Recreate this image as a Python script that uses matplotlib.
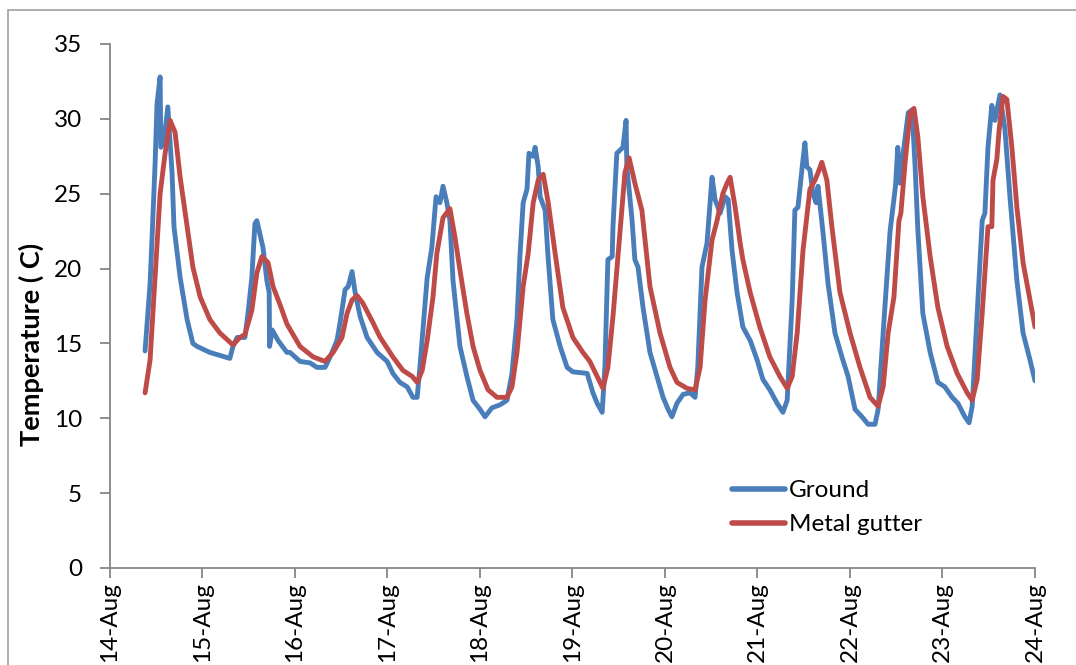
import numpy as np
import matplotlib
matplotlib.use("Agg")
import matplotlib.pyplot as plt
from matplotlib.patches import Rectangle

# ---- data (hours after 14-Aug 00:00, temperature in C) ----
start_date = "2012-08-14"
tick_labels = ["14-Aug", "15-Aug", "16-Aug", "17-Aug", "18-Aug", "19-Aug",
               "20-Aug", "21-Aug", "22-Aug", "23-Aug", "24-Aug"]
y_ticks = [0, 5, 10, 15, 20, 25, 30, 35]

ground_hours = [
    9.1, 10.4, 10.9, 11.7, 12.2, 13.0, 13.2, 14.0, 15.0, 16.1, 16.6, 18.2, 20.0, 21.5, 22.6,
    25.9, 28.5, 31.1, 31.9, 33.0, 35.0, 35.8, 36.8, 37.6, 38.1, 39.7, 40.7, 41.3, 41.4, 42.1,
    43.6, 45.9, 46.7, 49.3, 51.9, 53.7, 55.8, 57.1, 58.9, 59.7, 61.0, 61.8, 62.8, 63.6, 64.9,
    66.7, 69.3, 71.9, 73.4, 75.2, 77.1, 78.6, 79.7, 80.4, 81.2, 82.3, 83.5, 84.6, 85.6, 86.4,
    87.4, 88.2, 89.0, 90.8, 92.6, 94.2, 96.0, 97.3, 99.1, 101.2, 103.0, 104.3, 105.6, 106.4,
    107.2, 108.2, 108.7, 109.8, 110.3, 111.1, 111.6, 112.9, 113.6, 114.9, 116.8, 118.6, 120.1,
    123.8, 125.3, 126.4, 127.7, 128.4, 129.2, 130.3, 130.5, 131.5, 132.3, 133.1, 133.9, 134.1,
    135.4, 136.2, 137.0, 138.3, 140.1, 141.9, 143.5, 144.8, 145.8, 147.1, 148.7, 150.5, 151.8,
    152.5, 153.6, 154.9, 156.2, 157.0, 158.3, 159.6, 160.4, 161.4, 162.7, 164.2, 166.1, 167.9,
    169.4, 171.2, 173.1, 174.6, 175.7, 177.0, 177.7, 178.5, 179.6, 180.3, 180.8, 181.6, 182.4,
    183.2, 183.7, 185.0, 186.3, 188.1, 189.9, 191.5, 193.3, 195.1, 196.7, 198.5, 199.3, 200.6,
    201.6, 202.4, 203.8, 204.4, 205.0, 205.8, 207.1, 208.1, 208.9, 209.6, 210.9, 212.8, 214.8,
    216.6, 218.5, 220.0, 221.8, 222.9, 223.7, 225.0, 226.3, 227.0, 227.8, 228.8, 229.6, 230.9,
    232.2, 233.5, 235.3, 236.9, 238.7, 240.0]
ground_temp = [
    14.5, 19.0, 22.0, 27.0, 31.0, 32.8, 28.1, 28.5, 30.8, 26.4, 22.8, 19.4, 16.6, 15.0, 14.8,
    14.4, 14.2, 14.0, 14.8, 15.4, 15.4, 17.0, 19.4, 23.0, 23.2, 21.4, 19.2, 18.4, 14.8, 15.9,
    15.2, 14.4, 14.4, 13.8, 13.7, 13.4, 13.4, 14.1, 15.2, 16.4, 18.6, 18.8, 19.8, 18.4, 16.8,
    15.4, 14.4, 13.8, 13.0, 12.4, 12.1, 11.4, 11.4, 13.4, 15.9, 19.4, 21.4, 24.8, 24.4, 25.5,
    24.4, 23.2, 19.2, 14.8, 12.8, 11.2, 10.6, 10.1, 10.7, 10.9, 11.2, 13.0, 16.6, 21.0,
    24.4, 25.3, 27.7, 27.5, 28.1, 26.8, 24.8, 23.9, 21.0, 16.6, 14.8, 13.4, 13.1,
    13.0, 11.7, 11.0, 10.4, 13.4, 20.6, 20.8, 22.8, 27.7, 27.9, 28.1, 29.9, 26.8,
    23.4, 20.6, 20.1, 17.4, 14.4, 12.8, 11.4, 10.6, 10.1, 11.0, 11.6, 11.7, 11.4,
    13.4, 20.1, 21.7, 26.1, 24.6, 23.7, 24.8, 24.6, 21.2, 18.4, 16.1, 15.2, 13.9,
    12.6, 11.9, 11.0, 10.4, 11.2, 17.9, 23.9, 24.1, 26.8, 28.4, 26.8, 26.6, 25.0,
    24.4, 25.5, 22.4, 19.0, 15.7, 14.1, 12.8, 10.6, 10.1, 9.6, 9.6, 10.6, 15.7,
    19.5, 22.5, 25.5, 28.1, 25.7, 27.7, 30.4, 30.6, 26.8, 22.6, 17.0, 14.4, 12.4,
    12.1, 11.4, 11.0, 10.1, 9.7, 10.8, 17.0, 23.2, 23.7, 28.1, 30.9, 29.9, 31.6,
    29.3, 24.8, 19.2, 15.7, 13.9, 12.5]

gutter_hours = [
    9.1, 10.4, 11.7, 13.0, 14.3, 15.6, 16.9, 18.2, 20.0, 21.5, 23.4, 25.9, 28.5, 31.9, 33.7,
    35.0, 36.8, 38.1, 39.4, 41.0, 42.3, 44.1, 45.9, 49.3, 52.7, 55.8, 57.9, 60.2, 61.5, 62.8,
    64.1, 65.6, 68.2, 70.1, 73.4, 76.0, 78.4, 79.7, 81.0, 82.3, 83.8, 84.8, 86.4, 88.2, 89.5,
    90.8, 92.6, 94.2, 96.0, 98.1, 100.4, 103.0, 104.3, 105.6, 107.2, 108.5, 109.8, 111.1,
    112.4, 113.7, 115.5, 117.5, 120.1, 122.7, 124.5, 126.4, 127.9, 129.2, 130.5, 132.3, 133.6,
    134.7, 136.2, 138.0, 140.1, 142.7, 145.3, 147.1, 149.7, 151.8, 153.1, 154.4, 156.2, 157.5,
    159.0, 160.1, 160.9, 162.2, 163.5, 164.2, 166.1, 168.6, 171.2, 173.8, 175.7, 177.0, 178.3,
    179.8, 181.6, 182.9, 183.7, 184.7, 186.0, 187.3, 189.4, 192.0, 194.6, 197.2, 199.3, 200.6,
    201.9, 203.4, 204.7, 205.2, 206.3, 207.6, 208.6, 209.6, 210.9, 212.8, 214.8, 217.2, 219.8,
    222.4, 223.7, 225.0, 226.3, 227.8, 228.8, 229.1, 230.1, 230.7, 231.7, 232.7, 234.0, 235.3,
    236.9, 238.7, 240.0]
gutter_temp = [
    11.7, 13.9, 19.4, 25.0, 27.7, 29.9, 29.1, 26.1, 22.8, 20.1, 18.1, 16.6, 15.7, 14.9, 15.4,
    15.6, 17.2, 19.7, 20.8, 20.4, 18.8, 17.6, 16.3, 14.8, 14.1, 13.8, 14.4, 15.4, 17.0, 17.9,
    18.2, 17.7, 16.4, 15.4, 14.1, 13.2, 12.8, 12.4, 13.2, 15.2, 18.1, 21.0, 23.4, 24.0, 22.1,
    19.9, 17.0, 14.8, 13.2, 11.9, 11.4, 11.4, 12.1, 14.4, 18.8, 21.0, 24.4, 25.9,
    26.3, 24.4, 21.0, 17.4, 15.4, 14.4, 13.8, 12.8, 12.0, 13.4, 16.8, 22.4, 26.4,
    27.4, 25.7, 23.9, 18.8, 15.7, 13.4, 12.4, 12.0, 11.9, 13.4, 17.9, 21.9, 23.2,
    25.0, 25.7, 26.1, 24.1, 21.7, 20.6, 18.4, 16.1, 14.1, 12.8, 12.0, 12.8, 15.7,
    21.2, 25.3, 25.9, 26.4, 27.1, 25.9, 22.8, 18.4, 15.7, 13.4, 11.4, 10.8, 12.1,
    15.7, 18.1, 23.2, 23.7, 27.1, 30.4, 30.7, 28.8, 24.8, 20.8, 17.4, 14.8, 13.0,
    11.7, 11.2, 12.6, 17.0, 22.8, 22.8, 25.9, 27.3, 29.3, 31.5, 31.3, 28.1, 24.1,
    20.4, 17.9, 16.1]

series_names = ["Ground", "Metal gutter"]
series_colors = ["#4A7EBB", "#BE4B48"]

# ---- figure ----
base = np.datetime64(start_date + "T00:00")
def to_dt(hours):
    return base + (np.array(hours) * 60).astype("timedelta64[m]")

plt.rcParams["font.family"] = ["Lato", "DejaVu Sans"]
W, H = 1076, 665
fig = plt.figure(figsize=(W / 100, H / 100), dpi=100)
fig.patch.set_facecolor("white")

# outer chart border (Excel chart area)
fig.patches.append(Rectangle((8 / W, -0.1), 1.2, 1 - 10 / H + 0.1,
                             transform=fig.transFigure, fill=False,
                             edgecolor="#A0A0A0", linewidth=1.2))

ax = fig.add_axes([110 / W, 1 - 568 / H, (1035 - 110) / W, (568 - 44) / H])

for hrs, vals, name, col in zip([ground_hours, gutter_hours], [ground_temp, gutter_temp],
                                series_names, series_colors):
    ax.plot(to_dt(hrs), vals, color=col, lw=3.5, label=name,
            solid_capstyle="round", solid_joinstyle="round")

ax.set_ylim(0, 35)
ax.set_yticks(y_ticks)
x0 = np.datetime64(start_date)
xt = [x0 + np.timedelta64(i, "D") for i in range(len(tick_labels))]
ax.set_xlim(xt[0], xt[-1])
ax.set_xticks(xt)
ax.set_xticklabels(tick_labels, rotation=90)

axis_col = "#868686"
for s in ["top", "right"]:
    ax.spines[s].set_visible(False)
for s in ["left", "bottom"]:
    ax.spines[s].set_color(axis_col)
    ax.spines[s].set_linewidth(1.3)
ax.tick_params(axis="both", colors=axis_col, labelcolor="black", labelsize=17.5,
               width=1.3, length=7, direction="out")
ax.tick_params(axis="y", pad=13)
ax.tick_params(axis="x", pad=3)

fig.text(31 / W, 1 - 344 / H, "Temperature ( C)", rotation=90, fontsize=19.5,
         fontweight="bold", ha="center", va="center")

leg = ax.legend(loc="upper left", bbox_to_anchor=((732 - 110) / (1035 - 110), (568 - 480) / (568 - 44)),
                frameon=False, fontsize=17.5, handlelength=2.2, handletextpad=0.15,
                labelspacing=0.55, borderaxespad=0, borderpad=0)
for line in leg.get_lines():
    line.set_linewidth(4)
    line.set_solid_capstyle("round")

fig.savefig("out.png", dpi=100, facecolor="white")
